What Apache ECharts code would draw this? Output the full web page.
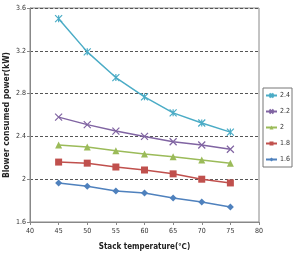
<!DOCTYPE html>
<html><head><meta charset="utf-8">
<script src="https://cdn.jsdelivr.net/npm/echarts@6/dist/echarts.min.js"></script>
<style>html,body{margin:0;padding:0;background:#fff}#c{width:295px;height:253px}</style>
</head><body><div id="c"></div>
<script>
const temps = [45, 50, 55, 60, 65, 70, 75];
const seriesNames = ['2.4', '2.2', '2', '1.8', '1.6'];
const s24 = [3.50, 3.19, 2.95, 2.77, 2.62, 2.525, 2.44];
const s22 = [2.58, 2.51, 2.45, 2.40, 2.35, 2.32, 2.28];
const s20 = [2.32, 2.30, 2.265, 2.236, 2.21, 2.18, 2.15];
const s18 = [2.16, 2.15, 2.114, 2.086, 2.05, 2.00, 1.965];
const s16 = [1.965, 1.935, 1.89, 1.87, 1.825, 1.787, 1.74];
const xTicks = [40, 45, 50, 55, 60, 65, 70, 75, 80];
const yTicks = [1.6, 2, 2.4, 2.8, 3.2, 3.6];

const colors = ['#4bacc6', '#8064a2', '#9bbb59', '#c0504d', '#4f81bd'];
const symbols = [
  'path://M0,0L10,10M10,0L0,10M5,0L5,10',
  'path://M0,0L10,10M10,0L0,10',
  'triangle', 'rect', 'diamond'
];
const sizes = [7, 7, 7, 7, 7];
const allData = [s24, s22, s20, s18, s16];
const font = '"DejaVu Sans Condensed", "Liberation Sans Narrow", "Liberation Sans", Arial, sans-serif';

const chart = echarts.init(document.getElementById('c'));
chart.setOption({
  animation: false,
  textStyle: {fontFamily: font},
  grid: {left: 30, right: 36, top: 8, bottom: 31, show: true, borderColor: '#888', borderWidth: 1,
    containLabel: false, outerBoundsMode: 'none'},
  legend: {
    orient: 'vertical', left: 263, top: 88, padding: [4, 2, 4, 2],
    borderColor: '#777', borderWidth: 1, itemWidth: 11, itemHeight: 5, itemGap: 9,
    textStyle: {fontSize: 7, color: '#333', fontFamily: font, padding: [0, 0, 0, -2]},
    data: seriesNames
  },
  xAxis: {
    type: 'value', min: 40, max: 80, interval: 5,
    axisLine: {show: true, lineStyle: {color: '#888'}},
    axisTick: {show: true, length: 3, lineStyle: {color: '#888'}},
    splitLine: {show: false},
    axisLabel: {fontSize: 7, color: '#333', margin: 6, fontFamily: font},
    name: 'Stack temperature(℃)', nameLocation: 'middle', nameGap: 21, nameMoveOverlap: false,
    nameTextStyle: {fontSize: 8, fontWeight: 'bold', color: '#222', fontFamily: font}
  },
  yAxis: {
    type: 'value', min: 1.6, max: 3.6, interval: 0.4,
    axisLine: {show: true, lineStyle: {color: '#888'}},
    axisTick: {show: true, length: 3, lineStyle: {color: '#888'}},
    splitLine: {show: true, lineStyle: {color: '#555', type: [3, 2], width: 1}},
    axisLabel: {fontSize: 7, color: '#333', margin: 4, fontFamily: font,
      formatter: v => String(Math.round(v * 10) / 10)},
    name: 'Blower consumed power(kW)', nameLocation: 'middle', nameGap: 19, nameRotate: 90,
    nameMoveOverlap: false,
    nameTextStyle: {fontSize: 8.5, fontWeight: 'bold', color: '#222', fontFamily: font}
  },
  series: allData.map((d, i) => ({
    name: seriesNames[i], type: 'line',
    data: temps.map((t, j) => [t, d[j]]),
    symbol: symbols[i], symbolSize: sizes[i], showSymbol: true,
    lineStyle: {color: colors[i], width: 1.5},
    itemStyle: {color: colors[i], borderColor: colors[i], borderWidth: i < 2 ? 1.2 : 0}
  }))
});
</script></body></html>
